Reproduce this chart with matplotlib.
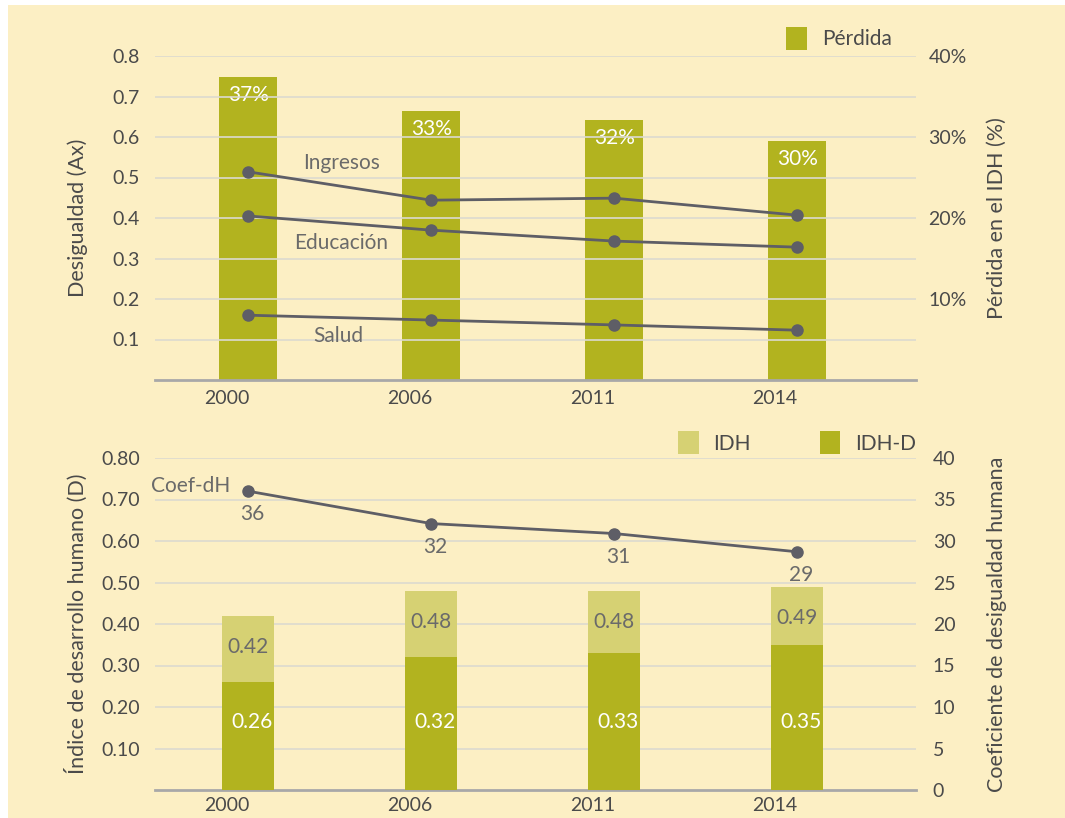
import matplotlib
matplotlib.use("Agg")
import matplotlib.pyplot as plt
from matplotlib.patches import Rectangle
import numpy as np

plt.rcParams['font.family'] = ['Lato', 'DejaVu Sans']

years = ["2000", "2006", "2011", "2014"]
perdida = [37.4, 33.2, 32.1, 29.5]
perdida_labels = ["37%", "33%", "32%", "30%"]
ingresos = [0.514, 0.444, 0.449, 0.407]
educacion = [0.405, 0.370, 0.343, 0.328]
salud = [0.160, 0.148, 0.136, 0.123]

idh = [0.42, 0.48, 0.48, 0.49]
idh_d = [0.26, 0.32, 0.33, 0.35]
coef = [36.0, 32.1, 30.9, 28.7]
coef_labels = ["36", "32", "31", "29"]

BG = "#FCEFC4"
DARK = "#B2B31F"
LIGHT = "#D6D173"
LINE = "#5E5E66"
TXT = "#4A4A4A"
ANN = "#6A6A6A"
GRID = "#DCDAD0"
SPINE = "#A8A8A8"
TS = 14      # tick size
LS = 15.5    # axis label size
AS = 15      # annotation size

fig = plt.figure(figsize=(10.65, 8.18), dpi=100)
fig.patch.set_facecolor("white")
fig.add_artist(Rectangle((8/1065, 0), 1, 1 - 5/818, transform=fig.transFigure,
                         facecolor=BG, edgecolor="none", zorder=-10))

x = np.arange(len(years))

def style(ax):
    ax.set_facecolor("none")
    for s in ["top", "left", "right"]:
        ax.spines[s].set_visible(False)
    ax.spines["bottom"].set_color(SPINE)
    ax.spines["bottom"].set_linewidth(2)
    ax.tick_params(axis="both", length=0, labelsize=TS, colors=TXT)
    ax.set_xlim(-0.51, 3.65)

def style_right(ax):
    ax.set_facecolor("none")
    for s in ["top", "left", "right", "bottom"]:
        ax.spines[s].set_visible(False)

# ---------- Top chart ----------
ax1 = fig.add_axes([155/1065, 1-380/818, (916-155)/1065, (380-56)/818])
style(ax1)
ax1.set_ylim(0, 0.8)
ax1.set_yticks(np.arange(1, 9) / 10)
ax1.set_yticklabels([f"{v/10:.1f}" for v in range(1, 9)])
ax1.yaxis.grid(True, color=GRID, linewidth=1.2)
ax1.set_axisbelow(True)
ax1.tick_params(axis="y", pad=11)
ax1.set_xticks(x - 0.12)
ax1.set_xticklabels(years)
ax1.tick_params(axis="x", pad=7)
ax1.set_ylabel("Desigualdad (Ax)", fontsize=LS, color=TXT)
ax1.yaxis.set_label_coords(-0.088, 0.5)

ax1r = ax1.twinx()
style_right(ax1r)
ax1r.set_ylim(0, 40)
ax1r.set_yticks([10, 20, 30, 40])
ax1r.set_yticklabels(["10%", "20%", "30%", "40%"])
ax1r.tick_params(axis="y", length=0, labelsize=TS, colors=TXT, pad=9)
ax1r.set_ylabel("Pérdida en el IDH (%)", fontsize=LS, color=TXT)
ax1r.yaxis.set_label_coords(1.093, 0.5)
ax1r.set_zorder(0)
ax1.set_zorder(1)

bars = ax1r.bar(x, perdida, width=0.317, color=DARK, zorder=2, label="Pérdida")
for xi, h, lab in zip(x, perdida, perdida_labels):
    ax1r.text(xi, h - 2.25, lab, ha="center", va="center", color="white", fontsize=AS)

for series in (ingresos, educacion, salud):
    ax1.plot(x, series, color=LINE, linewidth=2, marker="o", markersize=8, zorder=5)
ax1.text(0.51, 0.535, "Ingresos", ha="center", va="center", color=ANN, fontsize=AS)
ax1.text(0.51, 0.338, "Educación", ha="center", va="center", color=ANN, fontsize=AS)
ax1.text(0.49, 0.108, "Salud", ha="center", va="center", color=ANN, fontsize=AS)

leg1 = ax1r.legend(handles=[bars], loc="lower right", bbox_to_anchor=(0.968, 1.02),
                   frameon=False, fontsize=AS, handlelength=1.0, handleheight=1.3,
                   handletextpad=0.7, borderaxespad=0, borderpad=0)
for t in leg1.get_texts():
    t.set_color(TXT)

# ---------- Bottom chart ----------
ax2 = fig.add_axes([155/1065, 1-790/818, (916-155)/1065, (790-458)/818])
style(ax2)
ax2.set_ylim(0, 0.8)
ax2.set_yticks(np.arange(1, 9) / 10)
ax2.set_yticklabels([f"{v/10:.2f}" for v in range(1, 9)])
ax2.yaxis.grid(True, color=GRID, linewidth=1.2)
ax2.set_axisbelow(True)
ax2.tick_params(axis="y", pad=11)
ax2.set_xticks(x - 0.12)
ax2.set_xticklabels(years)
ax2.tick_params(axis="x", pad=5)
ax2.set_ylabel("Índice de desarrollo humano (D)", fontsize=LS, color=TXT)
ax2.yaxis.set_label_coords(-0.088, 0.5)

b_idh = ax2.bar(x, idh, width=0.285, color=LIGHT, zorder=2, label="IDH")
b_idhd = ax2.bar(x, idh_d, width=0.285, color=DARK, zorder=3, label="IDH-D")
for xi, a, b in zip(x, idh, idh_d):
    ax2.text(xi, a - 0.076, f"{a:.2f}", ha="center", va="center", color=ANN, fontsize=AS)
    ax2.text(xi + 0.02, 0.165, f"{b:.2f}", ha="center", va="center", color="white", fontsize=AS)

ax2r = ax2.twinx()
style_right(ax2r)
ax2r.set_ylim(0, 40)
ax2r.set_yticks(np.arange(0, 45, 5))
ax2r.tick_params(axis="y", length=0, labelsize=TS, colors=TXT, pad=12)
ax2r.set_ylabel("Coeficiente de desigualdad humana", fontsize=LS, color=TXT)
ax2r.yaxis.set_label_coords(1.093, 0.5)
ax2r.plot(x, coef, color=LINE, linewidth=2, marker="o", markersize=8, zorder=5)
for xi, c, lab in zip(x, coef, coef_labels):
    ax2r.text(xi + 0.02, c - 2.8, lab, ha="center", va="center", color=ANN, fontsize=AS)
ax2r.text(-0.10, coef[0] + 0.6, "Coef-dH", ha="right", va="center", color=ANN, fontsize=AS)

leg2 = ax2r.legend(handles=[b_idh, b_idhd], loc="lower right", bbox_to_anchor=(1.0, 1.012),
                   frameon=False, fontsize=AS, ncol=2, handlelength=1.0, handleheight=1.3,
                   handletextpad=0.7, columnspacing=3.3, borderaxespad=0, borderpad=0)
for t in leg2.get_texts():
    t.set_color(TXT)

fig.savefig("out.png", dpi=100, facecolor=fig.get_facecolor())
